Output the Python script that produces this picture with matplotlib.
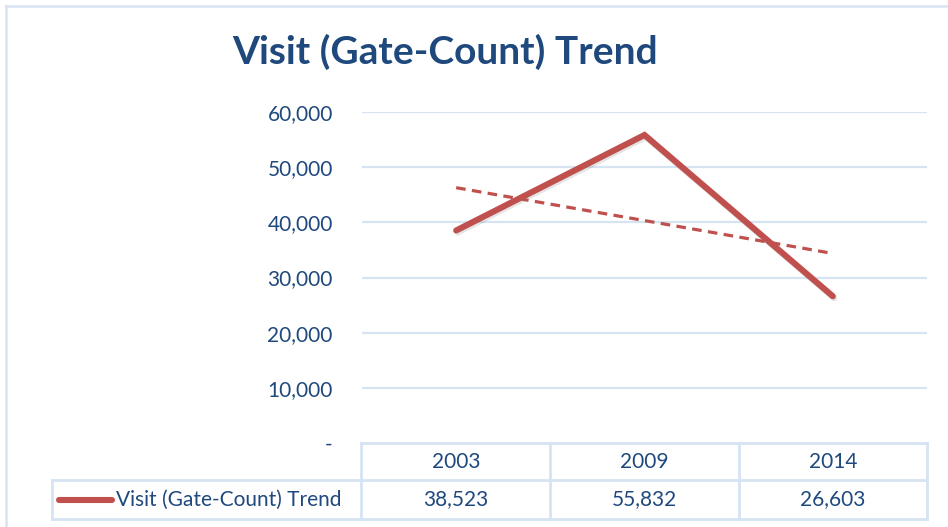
import numpy as np
import matplotlib.pyplot as plt
import matplotlib.patheffects as pe
from matplotlib.lines import Line2D
from matplotlib.transforms import blended_transform_factory

# data
years = ['2003', '2009', '2014']
visits = [38523, 55832, 26603]
series_name = 'Visit (Gate-Count) Trend'
yticks = [0, 10000, 20000, 30000, 40000, 50000, 60000]

red = '#C0504D'
blue = '#1F497D'
grid = '#D6E3F3'

plt.rcParams['font.family'] = ['Lato', 'DejaVu Sans']

W, H = 948, 527
fig = plt.figure(figsize=(W / 100, H / 100), dpi=100)

def fx(px):
    return px / W

def fy(py):
    return 1 - py / H

ax = fig.add_axes([fx(362), fy(443), fx(927) - fx(362), fy(112) - fy(443)])
x = np.arange(len(years))

# main line with soft shadow
ax.plot(x, visits, color=red, lw=4.4, solid_joinstyle='miter', solid_capstyle='round', zorder=3,
        path_effects=[pe.SimpleLineShadow(offset=(1, -1.5), shadow_color='gray', alpha=0.2),
                      pe.Normal()])

# linear trendline
k, b = np.polyfit(x, visits, 1)
ax.plot(x, k * x + b, color=red, lw=2.3, ls=(0, (3, 2)), zorder=2)

ax.set_xlim(-0.5, 2.5)
ax.set_ylim(0, 60000)
ax.set_yticks(yticks)
ax.set_yticklabels(['-' if v == 0 else f'{v:,}' for v in yticks])
ax.tick_params(axis='y', length=0, pad=21, labelsize=15, labelcolor=blue)
ax.set_xticks([])
for s in ax.spines.values():
    s.set_visible(False)
for v in yticks[1:]:
    ax.axhline(v, color=grid, lw=1.6, zorder=1)

fig.text(fx(445), fy(52), 'Visit (Gate-Count) Trend', ha='center', va='center',
         fontsize=28, fontweight='bold', color=blue)

# outer chart border
fig.add_artist(Line2D([fx(6), fx(948)], [fy(6), fy(6)], color=grid, lw=1.8))
fig.add_artist(Line2D([fx(6), fx(6)], [fy(6), fy(527)], color=grid, lw=1.8))

# data table
tr = blended_transform_factory(ax.transData, fig.transFigure)
row0_top, row_mid, row_bot = fy(443), fy(480), fy(519)
tl = dict(color=grid, lw=2, transform=fig.transFigure, clip_on=False)
fig.add_artist(Line2D([fx(361), fx(927)], [row0_top, row0_top], **tl))
fig.add_artist(Line2D([fx(52), fx(927)], [row_mid, row_mid], **tl))
fig.add_artist(Line2D([fx(52), fx(927)], [row_bot, row_bot], **tl))
fig.add_artist(Line2D([fx(52), fx(52)], [row_mid, row_bot], **tl))
fig.add_artist(Line2D([fx(361), fx(361)], [row0_top, row_bot], **tl))
for i in range(len(years)):
    fig.add_artist(Line2D([i + 0.5, i + 0.5], [row0_top, row_bot], color=grid, lw=2,
                          transform=tr, clip_on=False))
    fig.text(i, (row0_top + row_mid) / 2, years[i], transform=tr, ha='center', va='center',
             fontsize=15, color=blue)
    fig.text(i, (row_mid + row_bot) / 2, f'{visits[i]:,}', transform=tr, ha='center',
             va='center', fontsize=15, color=blue)

ymid = (row_mid + row_bot) / 2
fig.add_artist(Line2D([fx(59), fx(112)], [ymid, ymid], color=red, lw=4.4,
                      solid_capstyle='round'))
fig.text(fx(116), ymid, series_name, ha='left', va='center', fontsize=15, color=blue)

fig.savefig('out.png', dpi=100)
